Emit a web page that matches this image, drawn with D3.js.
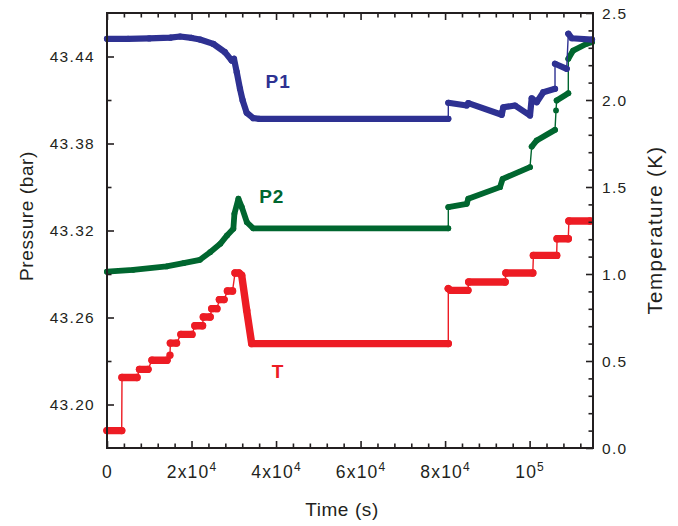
<!DOCTYPE html>
<html>
<head>
<meta charset="utf-8">
<script src="https://cdn.jsdelivr.net/npm/d3@7"></script>
<style>
  html, body { margin: 0; padding: 0; background: #fff; }
  svg { display: block; font-family: "Liberation Sans", Arial, Helvetica, sans-serif; }
</style>
</head>
<body>
<svg id="chart" width="678" height="526"></svg>
<script>
// Pressure P1 (bar): time (s), value, segment index (segments joined by thin jumps)
const p1Time  = [0, 5000, 10000, 15000, 17300, 20000, 22000, 25150, 27900, 29500, 30050, 30700, 31470, 32100, 33050, 34600, 36000, 80760,
                 80762, 85116, 85494, 93398, 93777, 96545, 100095, 100497, 101680, 103242, 106011,
                 106011, 108779,
                 109158, 109962, 114766];
const p1Value = [43.4522, 43.4522, 43.4525, 43.4530, 43.4538, 43.4528, 43.4517, 43.4487, 43.4430, 43.4372, 43.4384, 43.4292, 43.4177, 43.4097, 43.4012, 43.3975, 43.3970, 43.3970,
                 43.4081, 43.4062, 43.4078, 43.3998, 43.4050, 43.4062, 43.3993, 43.4112, 43.4085, 43.4154, 43.4177,
                 43.4350, 43.4315,
                 43.4557, 43.4526, 43.4517];
const p1Seg   = [0, 0, 0, 0, 0, 0, 0, 0, 0, 0, 0, 0, 0, 0, 0, 0, 0, 0,
                 1, 1, 1, 1, 1, 1, 1, 1, 1, 1, 1,
                 2, 2,
                 3, 3, 3];

// Pressure P2 (bar)
const p2Time  = [0, 6200, 14100, 18100, 22000, 24400, 26800, 28400, 29900, 30150, 31100, 31900, 33100, 34600, 80760,
                 80762, 85116, 85494, 93000, 93620, 100095,
                 100497, 101680, 106011,
                 106250,
                 106400, 109158,
                 109158, 110300, 113500, 114766];
const p2Value = [43.2916, 43.2929, 43.2952, 43.2975, 43.2998, 43.3050, 43.3108, 43.3166, 43.3212, 43.3315, 43.3419, 43.3361, 43.3257, 43.3215, 43.3215,
                 43.3361, 43.3384, 43.3419, 43.3499, 43.3556, 43.3637,
                 43.3779, 43.3821, 43.3894,
                 43.4028,
                 43.4097, 43.4147,
                 43.4384, 43.4441, 43.4488, 43.4499];
const p2Seg   = [0, 0, 0, 0, 0, 0, 0, 0, 0, 0, 0, 0, 0, 0, 0,
                 1, 1, 1, 1, 1, 1,
                 2, 2, 2,
                 3,
                 4, 4,
                 5, 5, 5, 5];

// Temperature T (K)
const tTime  = [0, 3480, 3550, 7100, 7700, 9700, 10650, 14200, 14900, 15000, 16450, 17500, 20100, 20800, 22600,
                22800, 24400, 24800, 26000, 26600, 27700, 28500, 29700,
                30300, 31250, 31870, 33050, 34240, 80760,
                80760, 81300, 85400, 85600, 94200, 94400, 100750, 100900, 106400, 106500, 109150, 109300, 114300];
const tValue = [0.100, 0.100, 0.405, 0.405, 0.452, 0.452, 0.504, 0.504, 0.533, 0.603, 0.603, 0.653, 0.653, 0.703, 0.703,
                0.753, 0.753, 0.801, 0.801, 0.853, 0.853, 0.902, 0.902,
                1.006, 1.006, 0.993, 0.791, 0.600, 0.600,
                0.916, 0.906, 0.906, 0.954, 0.954, 1.006, 1.006, 1.107, 1.107, 1.203, 1.203, 1.305, 1.305];
const tSeg   = [0, 0, 1, 1, 2, 2, 3, 3, 4, 5, 5, 6, 6, 7, 7,
                8, 8, 9, 9, 10, 10, 11, 11,
                12, 12, 12, 12, 12, 12,
                13, 13, 13, 14, 14, 15, 15, 16, 16, 17, 17, 18, 18];

// Axis ticks
const xMajorTicks = [0, 20000, 40000, 60000, 80000, 100000];
const xTickBase   = ["0", "2x10", "4x10", "6x10", "8x10", "10"];
const xTickExp    = ["", "4", "4", "4", "4", "5"];
const xMinorTicks = d3.range(0, 115001, 4000).filter(v => v % 20000 !== 0);
const leftMajorTicks = [43.20, 43.26, 43.32, 43.38, 43.44];
const leftMinorTicks = [43.23, 43.29, 43.35, 43.41];
const rightMajorTicks = [0.0, 0.5, 1.0, 1.5, 2.0, 2.5];
const rightMinorTicks = [0.1, 0.2, 0.3, 0.4, 0.6, 0.7, 0.8, 0.9, 1.1, 1.2, 1.3, 1.4, 1.6, 1.7, 1.8, 1.9, 2.1, 2.2, 2.3, 2.4];

const colors = { p1: "#2e3192", p2: "#00662f", t: "#ed1c24" };
const ink = "#231f20";

const svg = d3.select("#chart");
const margin = { left: 107, top: 13, right: 593, bottom: 448 };

const x = d3.scaleLinear().domain([0, 115000]).range([margin.left, margin.right]);
const yP = d3.scaleLinear().domain([43.17, 43.47]).range([margin.bottom, margin.top]);
const yT = d3.scaleLinear().domain([0, 2.5]).range([margin.bottom, margin.top]);

svg.append("clipPath").attr("id", "plotClip")
  .append("rect").attr("x", margin.left - 4).attr("y", margin.top - 4)
  .attr("width", margin.right - margin.left + 8).attr("height", margin.bottom - margin.top + 8);

function drawSeries(times, values, segs, yScale, color, r) {
  const pts = times.map((t, i) => ({ t, v: values[i], s: segs[i] }));
  const g = svg.append("g").attr("clip-path", "url(#plotClip)");
  const line = d3.line().x(d => x(d.t)).y(d => yScale(d.v));
  // thin connecting trace through every reading
  g.append("path").datum(pts).attr("d", line)
    .attr("fill", "none").attr("stroke", color).attr("stroke-width", 1.4);
  // dense readings drawn as a thick band per continuous run
  const groups = d3.groups(pts, d => d.s);
  groups.forEach(([, run]) => {
    if (run.length > 1) {
      g.append("path").datum(run).attr("d", line)
        .attr("fill", "none").attr("stroke", color)
        .attr("stroke-width", 2 * r).attr("stroke-linecap", "round").attr("stroke-linejoin", "round");
    }
  });
  g.selectAll(null).data(pts).join("circle")
    .attr("cx", d => x(d.t)).attr("cy", d => yScale(d.v)).attr("r", r).attr("fill", color);
}

drawSeries(p2Time, p2Value, p2Seg, yP, colors.p2, 2.9);
drawSeries(p1Time, p1Value, p1Seg, yP, colors.p1, 3.1);
drawSeries(tTime, tValue, tSeg, yT, colors.t, 3.7);

// Axes with inward ticks
function styleAxis(g) {
  g.select(".domain").remove();
  g.selectAll("line").attr("stroke", ink).attr("stroke-width", 1.6);
  g.selectAll("text").attr("fill", ink);
}

// bottom
svg.append("g").attr("transform", `translate(0,${margin.bottom})`)
  .call(d3.axisBottom(x).tickValues(xMinorTicks).tickSize(-4.5).tickFormat(""))
  .call(styleAxis);
const bottomMajor = svg.append("g").attr("transform", `translate(0,${margin.bottom})`)
  .call(d3.axisBottom(x).tickValues(xMajorTicks).tickSize(-7).tickFormat(""))
  .call(styleAxis);
bottomMajor.selectAll(".tick").each(function (d, i) {
  const t = d3.select(this).append("text")
    .attr("y", 30).attr("text-anchor", "middle").attr("fill", ink)
    .style("font-size", "17.5px").style("letter-spacing", "1.2px");
  t.append("tspan").text(xTickBase[i]);
  if (xTickExp[i]) {
    t.append("tspan").attr("dy", -7).style("font-size", "12px").text(xTickExp[i]);
  }
});

// top (mirror ticks, no labels)
svg.append("g").attr("transform", `translate(0,${margin.top})`)
  .call(d3.axisTop(x).tickValues(xMinorTicks).tickSize(-4.5).tickFormat(""))
  .call(styleAxis);
svg.append("g").attr("transform", `translate(0,${margin.top})`)
  .call(d3.axisTop(x).tickValues(xMajorTicks).tickSize(-7).tickFormat(""))
  .call(styleAxis);

// left (pressure)
svg.append("g").attr("transform", `translate(${margin.left},0)`)
  .call(d3.axisLeft(yP).tickValues(leftMinorTicks).tickSize(-4.5).tickFormat(""))
  .call(styleAxis);
svg.append("g").attr("transform", `translate(${margin.left},0)`)
  .call(d3.axisLeft(yP).tickValues(leftMajorTicks).tickSize(-7).tickPadding(12).tickFormat(d3.format(".2f")))
  .call(styleAxis)
  .selectAll("text").style("font-size", "15.5px").style("letter-spacing", "1.3px").attr("dy", "0.35em");

// right (temperature)
svg.append("g").attr("transform", `translate(${margin.right},0)`)
  .call(d3.axisRight(yT).tickValues(rightMinorTicks).tickSize(-4.5).tickFormat(""))
  .call(styleAxis);
svg.append("g").attr("transform", `translate(${margin.right},0)`)
  .call(d3.axisRight(yT).tickValues(rightMajorTicks).tickSize(-7).tickPadding(9).tickFormat(d3.format(".1f")))
  .call(styleAxis)
  .selectAll("text").style("font-size", "15.5px").style("letter-spacing", "1.3px").attr("dy", "0.35em");

// frame
svg.append("rect")
  .attr("x", margin.left).attr("y", margin.top)
  .attr("width", margin.right - margin.left).attr("height", margin.bottom - margin.top)
  .attr("fill", "none").attr("stroke", ink).attr("stroke-width", 2);

// axis titles
svg.append("text").attr("transform", "translate(33,216) rotate(-90)")
  .attr("text-anchor", "middle").attr("fill", ink)
  .style("font-size", "19px").style("letter-spacing", "0.6px").text("Pressure (bar)");
svg.append("text").attr("transform", "translate(662,230) rotate(-90)")
  .attr("text-anchor", "middle").attr("fill", ink)
  .style("font-size", "20.5px").style("letter-spacing", "1.4px").text("Temperature (K)");
svg.append("text").attr("x", 342).attr("y", 516)
  .attr("text-anchor", "middle").attr("fill", ink)
  .style("font-size", "19px").style("letter-spacing", "0.6px").text("Time (s)");

// series labels
const seriesLabels = [
  { text: "P1", t: 37500, v: 43.4183, color: colors.p1, scale: yP },
  { text: "P2", t: 36000, v: 43.3390, color: colors.p2, scale: yP },
  { text: "T",  t: 39000, v: 0.402,   color: colors.t,  scale: yT }
];
svg.selectAll(null).data(seriesLabels).join("text")
  .attr("x", d => x(d.t)).attr("y", d => d.scale(d.v))
  .attr("fill", d => d.color)
  .style("font-size", "19px").style("font-weight", "bold").style("letter-spacing", "1px")
  .text(d => d.text);
</script>
</body>
</html>
